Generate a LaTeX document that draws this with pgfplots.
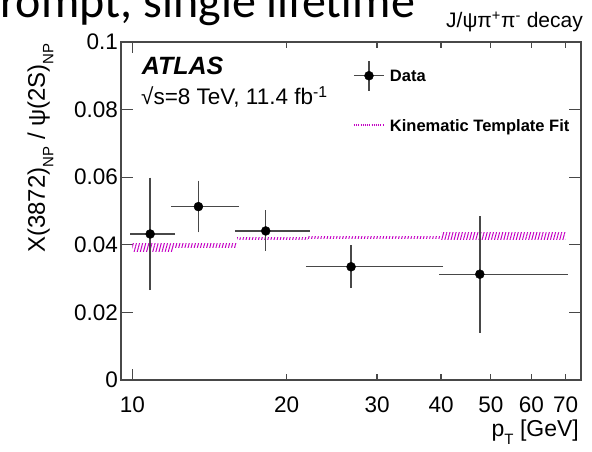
\documentclass[border=0pt]{standalone}
\usepackage{pgfplots}
\pgfplotsset{compat=1.18}
\usepackage{pgfplotstable}
\usepackage{fontspec}
\setmainfont{Liberation Sans}
\newfontfamily\slidefont{Carlito}
\usetikzlibrary{patterns.meta}

\definecolor{fitmag}{RGB}{196,0,196}
\definecolor{axisgray}{RGB}{72,72,72}

\newcommand{\fs}[1]{\fontsize{#1}{#1}\selectfont}
\newcommand{\sub}[1]{\raisebox{-0.35em}{\fs{15}#1}}

% measured ratio X(3872)/psi(2S), non-prompt, per pT bin
\pgfplotstableread{
x     y      xm    xp    ym     yp
10.83 0.0432 0.83  1.17  0.0160 0.0161
13.45 0.0513 1.45  2.55  0.0070 0.0071
18.2  0.0441 2.2   3.8   0.0053 0.0056
26.7  0.0335 4.7   13.3  0.0057 0.0058
47.6  0.0313 7.6   22.4  0.0167 0.0165
}\datatable

\begin{document}
\begin{tikzpicture}[x=1pt,y=1pt]
\useasboundingbox (0,0) rectangle (592,451);
\begin{scope}
  \clip (0,0) rectangle (592,451);
  \node[anchor=base west, inner sep=0pt, font=\slidefont\fs{48}] at (-25,433) {Prompt, single lifetime};
\end{scope}

\begin{axis}[
  at={(121pt,71pt)}, anchor=south west, scale only axis,
  width=460pt, height=338pt,
  xmode=log, xmin=9.5, xmax=75,
  ymin=0, ymax=0.1,
  axis line style={axisgray, line width=1.2pt},
  every tick/.style={axisgray, line width=1.2pt},
  tick align=inside,
  major tick length=6pt, minor tick length=6pt,
  xtick={20,30,40,50,60,70}, xticklabels={20,30,40,50,60,70},
  extra x ticks={10}, extra x tick labels={10},
  extra x tick style={major tick length=11pt},
  ytick=\empty,
  minor ytick={0,0.004,...,0.1},
  extra y ticks={0,0.02,0.04,0.06,0.08,0.1},
  extra y tick labels={0,0.02,0.04,0.06,0.08,0.1},
  extra y tick style={major tick length=12pt},
  tick label style={font=\fs{22.5}},
  xticklabel style={inner sep=0pt, anchor=north, yshift=-17pt},
  yticklabel style={inner sep=0pt, anchor=east, xshift=-3pt},
  clip=false,
  legend style={draw=none, fill=none, font=\bfseries\fs{16.5},
    at={(axis description cs:0.5043,0.9467)}, anchor=north west,
    inner sep=0pt, outer sep=0pt, row sep=28pt, column sep=5pt,
    nodes={inner sep=0pt, anchor=base west}},
  legend cell align=left,
]
% kinematic template fit, one hatched band per bin
\addplot[forget plot, draw=none, pattern={Lines[angle=75,distance=3pt,line width=1pt]}, pattern color=fitmag]
  coordinates {(10,0.0381) (12,0.0381) (12,0.0403) (10,0.0403)} -- cycle;
\addplot[forget plot, draw=none, pattern={Lines[angle=75,distance=3pt,line width=1pt]}, pattern color=fitmag]
  coordinates {(12,0.0393) (16,0.0393) (16,0.0403) (12,0.0403)} -- cycle;
\addplot[forget plot, draw=none, pattern={Lines[angle=75,distance=3pt,line width=1pt]}, pattern color=fitmag]
  coordinates {(16,0.0416) (22,0.0416) (22,0.0423) (16,0.0423)} -- cycle;
\addplot[forget plot, draw=none, pattern={Lines[angle=75,distance=3pt,line width=1pt]}, pattern color=fitmag]
  coordinates {(22,0.0420) (40,0.0420) (40,0.0426) (22,0.0426)} -- cycle;
\addplot[forget plot, draw=none, pattern={Lines[angle=75,distance=3pt,line width=1pt]}, pattern color=fitmag]
  coordinates {(40,0.0416) (70,0.0416) (70,0.0436) (40,0.0436)} -- cycle;

% data points with bin widths and uncertainties
\addplot[forget plot, only marks, mark=*, mark size=4.5pt, black,
  error bars/.cd, x dir=both, x explicit, y dir=both, y explicit,
  error bar style={axisgray, line width=1.4pt},
  error mark options={axisgray, line width=1.4pt, mark size=2pt}]
  table[x=x, y=y, x error plus=xp, x error minus=xm, y error plus=yp, y error minus=ym] {\datatable};

\addlegendimage{legend image code/.code={
  \draw[axisgray, line width=1.4pt] (0pt,5.9pt) -- (30pt,5.9pt);
  \draw[axisgray, line width=1.4pt] (15pt,-9.1pt) -- (15pt,20.9pt);
  \fill[black] (15pt,5.9pt) circle (4.5pt);}}
\addlegendentry{Data}
\addlegendimage{legend image code/.code={
  \draw[fitmag, line width=2pt, dash pattern=on 1pt off 1.2pt] (0pt,5.9pt) -- (30pt,5.9pt);}}
\addlegendentry{Kinematic Template Fit}
\end{axis}

% labels and annotations
\node[anchor=base east, inner sep=0pt, rotate=90, font=\fs{24}] at (45,408)
  {X(3872)\sub{NP} / ψ(2S)\sub{NP}};
\node[anchor=base east, inner sep=0pt, font=\fs{23}] at (579,15)
  {p\sub{T} [GeV]};
\node[anchor=base east, inner sep=0pt, font=\fs{21}] at (583,423)
  {J/ψπ\textsuperscript{+}π\textsuperscript{-} decay};
\node[anchor=base west, inner sep=0pt, font=\bfseries\itshape\fs{25}] at (141.7,376) {ATLAS};
\node[anchor=base west, inner sep=0pt, font=\fs{22.5}] at (141,346)
  {√s=8 TeV, 11.4 fb\textsuperscript{-1}};
\end{tikzpicture}
\end{document}
